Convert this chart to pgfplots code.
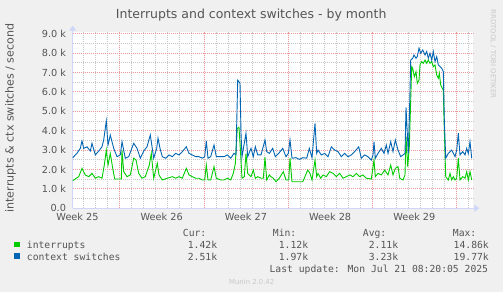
\documentclass[border=0pt]{standalone}
\usepackage{pgfplots}
\pgfplotsset{compat=1.18}
\usepackage{fontspec}
\setmainfont{DejaVu Sans}
\newfontfamily\monofont{DejaVu Sans Mono}
\usetikzlibrary{arrows.meta}
\definecolor{bg}{HTML}{F0F0F0}
\definecolor{cgreen}{HTML}{00CC00}
\definecolor{cblue}{HTML}{0066B3}
\definecolor{mgrid}{HTML}{E89A9A}
\definecolor{gridc}{HTML}{C8C8C8}
\definecolor{axisc}{HTML}{CFD6F8}
\definecolor{txt}{HTML}{555555}
\definecolor{wm}{HTML}{C8C8C8}
\begin{document}
\begin{tikzpicture}[x=1bp,y=1bp]
\fill[bg] (0,0) rectangle (503,292);
\useasboundingbox (0,0) rectangle (503,292);
\begin{axis}[
  at={(72.7bp,83.7bp)}, anchor=south west,
  scale only axis, width=400.6bp, height=176.6bp,
  xmin=72.7, xmax=473.3, ymin=0, ymax=9100,
  axis background/.style={fill=white},
  axis x line*=bottom, axis y line*=left,
  axis line style={draw=axisc, line width=1bp},
  x axis line style={-{Triangle[width=7bp,length=5bp]}, shorten >=-6bp},
  y axis line style={-{Triangle[width=7bp,length=5bp]}, shorten >=-6bp},
  xtick={119.7,203.9,288.1,372.3,456.5}, xticklabels={},
  minor xtick={83.6,95.63,...,472},
  extra x ticks={77.5,161.7,245.9,330.1,414.3},
  extra x tick labels={Week 25,Week 26,Week 27,Week 28,Week 29},
  extra x tick style={grid=none, major tick length=0pt},
  ytick={0,1000,...,9000},
  yticklabels={0.0,1.0 k,2.0 k,3.0 k,4.0 k,5.0 k,6.0 k,7.0 k,8.0 k,9.0 k},
  minor ytick={500,1500,...,8500},
  grid=both,
  major grid style={draw=mgrid, dash pattern=on 1bp off 1bp, line width=0.8bp},
  minor grid style={draw=gridc, dash pattern=on 1bp off 1bp, line width=0.8bp},
  major tick length=0pt, minor tick length=0pt,
  tick label style={font=\fontsize{9.72bp}{11bp}\selectfont, text=txt, inner sep=0pt},
  yticklabel style={xshift=-6.5bp},
  xticklabel style={yshift=-4.6bp},
]
\addplot[cgreen, line width=0.9bp] coordinates {
(72.8,1420)(73.7,1460)(78.7,1630)(82.0,2060)(85.3,1720)(88.7,1630)(92.0,1800)(95.3,1550)(98.7,1630)(102.0,1550)
(104.3,2230)(106.3,3000)(108.0,2230)(110.3,2830)(112.7,2060)(114.7,1510)(121.3,1510)(122.0,3000)(123.7,1890)
(127.0,1630)(130.3,1720)(133.7,2580)(136.0,2490)(138.7,1800)(142.0,1550)(145.3,1630)(149.3,2230)(151.3,2830)
(153.7,1550)(157.3,2320)(159.0,1720)(162.3,1460)(167.3,1550)(172.3,1630)(175.7,1550)(179.0,1630)(182.3,1550)
(186.3,2060)(189.0,1720)(192.3,1630)(195.7,1550)(199.0,1550)(202.3,1460)(204.7,1460)(206.3,2230)(208.0,1460)
(210.7,1460)(214.0,2150)(216.3,1550)(220.7,1460)(224.0,1460)(227.3,1550)(230.7,1460)(233.3,1800)(235.3,2300)
(237.3,4120)(239.0,4170)(241.0,2490)(242.0,1550)(244.3,1630)(246.0,2830)(247.7,1800)(251.0,1630)(253.3,1970)
(255.3,1550)(257.7,1630)(261.0,1550)(263.3,1550)(265.0,2630)(266.7,1460)(269.3,1720)(271.0,1630)(273.3,1550)
(276.0,1370)(279.3,1550)(283.3,1890)(286.0,1460)(288.7,1460)(290.0,2580)(292.0,1370)(297.7,1370)(302.7,1370)
(304.3,1550)(307.7,1970)(310.0,1800)(312.0,1460)(315.0,2490)(316.7,1630)(318.0,1800)(320.7,1550)(323.0,1720)
(326.3,1630)(329.7,1890)(333.0,1800)(336.3,1630)(339.7,1800)(343.0,1550)(346.3,1630)(349.7,1720)(353.0,1630)
(356.3,1800)(359.7,1630)(363.0,1720)(366.3,1550)(371.3,1510)(374.0,2490)(375.3,1630)(378.0,1800)(381.3,1720)
(384.7,1970)(388.0,1720)(390.7,2230)(393.0,1720)(395.3,2060)(398.0,2150)(399.7,1550)(403.0,1460)(405.0,1720)
(406.0,3700)(407.7,2150)(409.3,3180)(411.7,7300)(412.7,7220)(414.3,6780)(416.0,7040)(417.3,6440)(419.0,6610)
(420.0,7390)(421.7,7560)(423.3,7470)(425.0,7640)(426.7,7470)(428.3,7640)(430.0,7470)(431.7,7560)(433.3,7300)
(435.0,7390)(436.7,6870)(438.3,6700)(439.3,6960)(440.7,6350)(442.3,6180)(443.3,6100)(444.3,4040)(445.7,1630)
(448.3,1460)(450.0,1800)(451.7,1460)(453.3,1630)(455.0,1460)(456.7,1550)(458.3,2580)(460.0,1460)(462.7,1630)
(465.0,1550)(466.7,1890)(468.3,1460)(470.0,1890)(471.7,1460)
};
\addplot[cblue, line width=0.9bp] coordinates {
(72.8,2600)(73.7,2660)(76.9,2830)(80.3,3090)(82.0,3470)(83.7,3090)(87.0,3170)(90.3,2950)(92.0,3350)(95.3,2750)
(98.7,2950)(102.0,3170)(103.7,3520)(106.3,4500)(108.0,3260)(110.3,3770)(113.7,3090)(117.0,2660)(120.3,2750)
(122.0,3430)(125.3,2580)(128.7,2660)(133.7,3350)(137.0,3090)(140.3,2580)(143.7,2950)(147.0,3170)(150.3,3780)
(153.7,2580)(156.7,3090)(158.0,3610)(160.0,3090)(162.3,2660)(165.7,2580)(169.0,2750)(172.3,2660)(175.7,2830)
(179.0,2750)(182.3,2920)(186.3,3170)(189.0,2830)(192.3,2750)(195.7,2660)(199.0,2660)(202.3,2580)(204.7,2660)
(206.3,3470)(208.0,2580)(210.7,2660)(214.0,3260)(216.3,2660)(220.7,2660)(224.0,2660)(227.3,2750)(230.7,2580)
(234.0,2830)(236.0,2750)(237.7,6610)(240.0,6440)(241.0,3870)(242.0,2660)(246.0,3870)(247.7,2660)(251.0,3090)
(253.3,2660)(255.3,3180)(257.7,2750)(261.0,2750)(265.0,3520)(266.7,2920)(269.3,2830)(272.7,3090)(275.3,2660)
(278.7,2830)(282.7,3090)(286.0,2660)(288.3,2830)(290.0,3520)(292.0,2580)(296.0,2610)(299.3,2520)(302.7,2610)
(306.7,2580)(309.3,3090)(312.0,2610)(315.0,4380)(316.7,2830)(318.0,3000)(321.3,2750)(324.7,2830)(328.0,2660)
(331.3,3170)(334.7,3000)(338.0,2920)(341.3,2660)(344.7,2830)(348.0,2660)(351.3,2750)(354.7,2920)(358.7,3170)
(361.3,2580)(364.7,2750)(368.0,2660)(371.3,2490)(373.0,2750)(374.0,3430)(375.3,2580)(378.0,2830)(381.3,3090)
(384.0,2830)(386.3,3260)(388.0,2830)(390.7,3430)(393.0,2920)(395.3,3520)(398.0,3000)(400.7,2660)(403.0,2750)
(405.0,2830)(406.0,5200)(408.3,2830)(409.3,4550)(410.7,7640)(412.7,7730)(414.0,7900)(416.0,7730)(417.3,7820)
(419.0,8250)(420.7,7990)(422.7,8160)(425.0,7900)(426.7,8080)(428.3,7730)(430.0,7990)(431.7,7640)(433.3,8080)
(435.0,7560)(436.7,7820)(438.3,7390)(440.0,7300)(441.7,7220)(443.3,7040)(444.3,4550)(445.7,2580)(448.3,2830)
(451.7,3000)(455.0,2660)(456.7,3000)(458.3,3870)(460.0,2750)(462.7,2920)(465.0,2750)(466.7,3090)(468.3,2830)
(470.0,3430)(471.7,2580)
};
\end{axis}
\node[anchor=base, inner sep=0pt, text=txt, font=\fontsize{12.5bp}{14bp}\selectfont] at (251.2,273.7) {Interrupts and context switches - by month};
\node[rotate=90, inner sep=0pt, text=txt, font=\fontsize{11.1bp}{13bp}\selectfont] at (10.5,174) {interrupts \& ctx switches / second};
\node[rotate=-90, inner sep=0pt, text=wm, font=\fontsize{6.9bp}{8bp}\selectfont] at (493,238) {RRDTOOL / TOBI OETIKER};
\begin{scope}[every node/.style={inner sep=0pt, text=txt, font=\monofont\fontsize{9.72bp}{11bp}\selectfont}]
\node[anchor=base west] at (182.7,56) {Cur:};
\node[anchor=base west] at (272.7,56) {Min:};
\node[anchor=base west] at (362.7,56) {Avg:};
\node[anchor=base west] at (452.7,56) {Max:};
\fill[cgreen] (14,45) rectangle (19.5,50.3);
\fill[cblue] (14,33.3) rectangle (19.5,38.6);
\node[anchor=base west] at (26.7,43.7) {interrupts};
\node[anchor=base west] at (26.7,32) {context switches};
\node[anchor=base east] at (217.3,43.7) {1.42k};
\node[anchor=base east] at (308.3,43.7) {1.12k};
\node[anchor=base east] at (398.3,43.7) {2.11k};
\node[anchor=base east] at (489,43.7) {14.86k};
\node[anchor=base east] at (217.3,32) {2.51k};
\node[anchor=base east] at (308.3,32) {1.97k};
\node[anchor=base east] at (398.3,32) {3.23k};
\node[anchor=base east] at (489,32) {19.77k};
\node[anchor=base east] at (488.3,19.7) {Last update: Mon Jul 21 08:20:05 2025};
\end{scope}
\node[anchor=base, inner sep=0pt, text=wm, font=\fontsize{6.9bp}{8bp}\selectfont] at (251.7,8) {Munin 2.0.42};
\end{tikzpicture}
\end{document}
